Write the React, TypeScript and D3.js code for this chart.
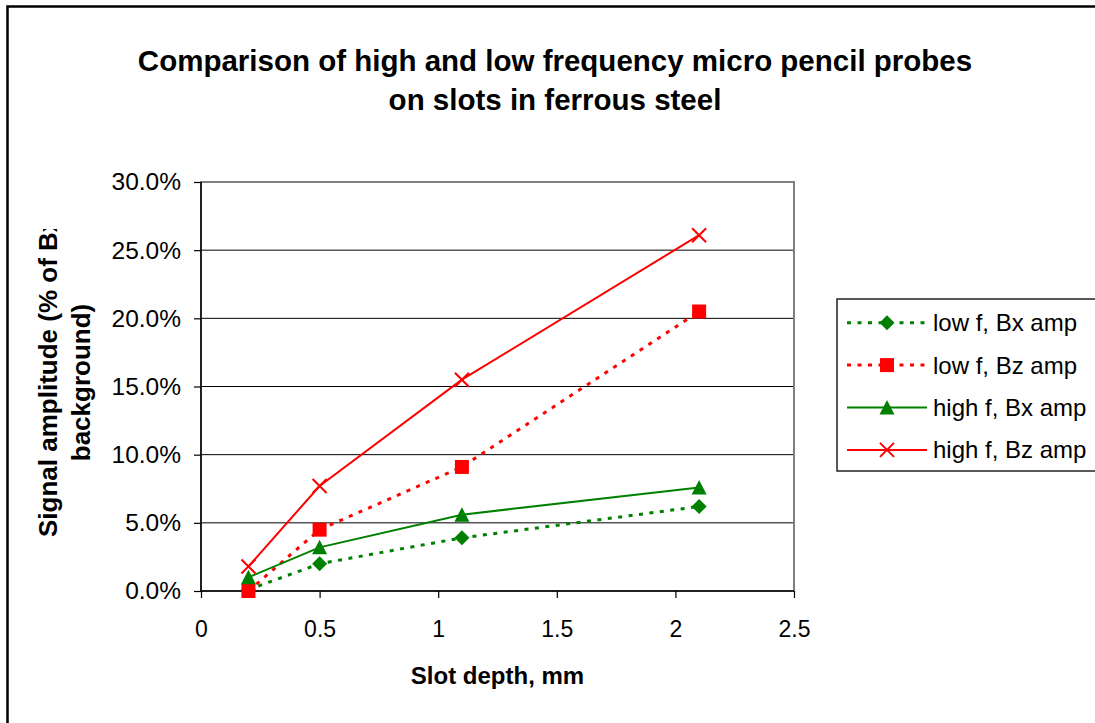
import { useEffect, useRef } from "react";
import * as d3 from "d3";

// slot depth (mm) and amplitude (fraction of background)
const depths = [0.2, 0.5, 1.1, 2.1];
const lowBx = [0.001, 0.02, 0.039, 0.062];
const lowBz = [0.0, 0.045, 0.091, 0.205];
const highBx = [0.01, 0.032, 0.056, 0.076];
const highBz = [0.018, 0.077, 0.155, 0.261];

const seriesNames = ["low f, Bx amp", "low f, Bz amp", "high f, Bx amp", "high f, Bz amp"];
const xTicks = [0, 0.5, 1, 1.5, 2, 2.5];
const yTicks = [0, 0.05, 0.1, 0.15, 0.2, 0.25, 0.3];

const titleLines = [
  "Comparison of high and low frequency micro pencil probes",
  "on slots in ferrous steel",
];
const xTitle = "Slot depth, mm";
const yTitleLines = ["Signal amplitude (% of Bx", "background)"];

const GREEN = "#008000";
const RED = "#ff0000";
const FONT = "'Liberation Sans', Arial, sans-serif";

type Marker = "diamond" | "square" | "triangle" | "cross";

export default function App() {
  const svgRef = useRef<SVGSVGElement>(null);

  useEffect(() => {
    const width = 1095;
    const height = 723;
    const svg = d3.select(svgRef.current).attr("width", width).attr("height", height);
    svg.selectAll("*").remove();

    const plot = { left: 201, right: 794, top: 182, bottom: 591 };
    const xScale = d3.scaleLinear().domain([0, 2.5]).range([plot.left, plot.right]);
    const yScale = d3.scaleLinear().domain([0, 0.3]).range([plot.bottom, plot.top]);

    // outer chart frame
    svg
      .append("rect")
      .attr("x", 7.5)
      .attr("y", 6.5)
      .attr("width", 1200)
      .attr("height", 800)
      .attr("fill", "white")
      .attr("stroke", "#000")
      .attr("stroke-width", 2.5);

    // title
    svg
      .append("g")
      .selectAll("text")
      .data(titleLines)
      .join("text")
      .attr("x", 555)
      .attr("y", (d, i) => 71 + i * 39)
      .attr("text-anchor", "middle")
      .attr("font-family", FONT)
      .attr("font-weight", "bold")
      .attr("font-size", 29.5)
      .text((d) => d);

    // grid lines
    svg
      .append("g")
      .selectAll("line")
      .data(yTicks.slice(1, -1))
      .join("line")
      .attr("x1", plot.left)
      .attr("x2", plot.right)
      .attr("y1", (d) => yScale(d))
      .attr("y2", (d) => yScale(d))
      .attr("stroke", "#000")
      .attr("stroke-width", 1);

    // plot area border
    svg
      .append("rect")
      .attr("x", plot.left)
      .attr("y", plot.top)
      .attr("width", plot.right - plot.left)
      .attr("height", plot.bottom - plot.top)
      .attr("fill", "none")
      .attr("stroke", "#808080")
      .attr("stroke-width", 2);

    // axes
    const yAxis = d3
      .axisLeft(yScale)
      .tickValues(yTicks)
      .tickFormat((d) => d3.format(".1%")(d as number))
      .tickSize(7)
      .tickPadding(13);
    const yG = svg.append("g").attr("transform", `translate(${plot.left},0)`).call(yAxis);

    const xAxis = d3
      .axisBottom(xScale)
      .tickValues(xTicks)
      .tickFormat((d) => String(d))
      .tickSize(7)
      .tickPadding(23);
    const xG = svg.append("g").attr("transform", `translate(0,${plot.bottom})`).call(xAxis);

    [yG, xG].forEach((g) => {
      g.select(".domain").attr("stroke", "#000").attr("stroke-width", 1.5);
      g.selectAll(".tick line").attr("stroke", "#000").attr("stroke-width", 1.2);
      g.selectAll(".tick text")
        .attr("font-family", FONT)
        .attr("fill", "#000");
    });
    yG.selectAll(".tick text").attr("font-size", 24.5);
    xG.selectAll(".tick text").attr("font-size", 23);
    yG.select(".domain").attr("d", `M0,${plot.top}V${plot.bottom}`);
    xG.select(".domain").attr("d", `M${plot.left},0H${plot.right}`);

    // axis titles
    svg
      .append("text")
      .attr("x", (plot.left + plot.right) / 2)
      .attr("y", 684)
      .attr("text-anchor", "middle")
      .attr("font-family", FONT)
      .attr("font-weight", "bold")
      .attr("font-size", 24)
      .text(xTitle);

    svg
      .append("clipPath")
      .attr("id", "ytitle-clip")
      .append("rect")
      .attr("x", 0)
      .attr("y", 229)
      .attr("width", 200)
      .attr("height", 500);

    const yTitle = svg.append("g").attr("clip-path", "url(#ytitle-clip)");
    yTitle
      .append("text")
      .attr("transform", "translate(57,537) rotate(-90)")
      .attr("text-anchor", "start")
      .attr("font-family", FONT)
      .attr("font-weight", "bold")
      .attr("font-size", 26)
      .text(yTitleLines[0]);
    yTitle
      .append("text")
      .attr("transform", "translate(90,382.5) rotate(-90)")
      .attr("text-anchor", "middle")
      .attr("font-family", FONT)
      .attr("font-weight", "bold")
      .attr("font-size", 26)
      .text(yTitleLines[1]);

    // series
    const series = [
      { name: seriesNames[0], values: lowBx, color: GREEN, dashed: true, marker: "diamond" as Marker },
      { name: seriesNames[1], values: lowBz, color: RED, dashed: true, marker: "square" as Marker },
      { name: seriesNames[2], values: highBx, color: GREEN, dashed: false, marker: "triangle" as Marker },
      { name: seriesNames[3], values: highBz, color: RED, dashed: false, marker: "cross" as Marker },
    ];

    const drawMarker = (g: d3.Selection<SVGGElement, unknown, null, undefined>, kind: Marker, color: string) => {
      if (kind === "diamond") {
        g.append("path").attr("d", "M0,-7.5L7.5,0L0,7.5L-7.5,0Z").attr("fill", color);
      } else if (kind === "square") {
        g.append("rect").attr("x", -7).attr("y", -7).attr("width", 14).attr("height", 14).attr("fill", color);
      } else if (kind === "triangle") {
        g.append("path").attr("d", "M0,-7.5L7.5,7L-7.5,7Z").attr("fill", color);
      } else {
        g.append("path")
          .attr("d", "M-7,-7L7,7M7,-7L-7,7")
          .attr("stroke", color)
          .attr("stroke-width", 2)
          .attr("fill", "none");
      }
    };

    const lineGenerator = d3
      .line<number>()
      .x((d, i) => xScale(depths[i]))
      .y((d) => yScale(d));

    series.forEach((s) => {
      svg
        .append("path")
        .datum(s.values)
        .attr("d", lineGenerator)
        .attr("fill", "none")
        .attr("stroke", s.color)
        .attr("stroke-width", s.dashed ? 3 : 2)
        .attr("stroke-dasharray", s.dashed ? "4,6.5" : null);

      s.values.forEach((v, i) => {
        const g = svg.append("g").attr("transform", `translate(${xScale(depths[i])},${yScale(v)})`);
        drawMarker(g, s.marker, s.color);
      });
    });

    // legend
    const legend = svg.append("g");
    legend
      .append("rect")
      .attr("x", 837)
      .attr("y", 299)
      .attr("width", 300)
      .attr("height", 172)
      .attr("fill", "white")
      .attr("stroke", "#222")
      .attr("stroke-width", 1.5);

    series.forEach((s, i) => {
      const cy = 322.7 + i * 42.4;
      legend
        .append("line")
        .attr("x1", 847)
        .attr("x2", 927)
        .attr("y1", cy)
        .attr("y2", cy)
        .attr("stroke", s.color)
        .attr("stroke-width", s.dashed ? 3 : 2)
        .attr("stroke-dasharray", s.dashed ? "4,6.5" : null);
      const g = legend.append("g").attr("transform", `translate(887,${cy})`);
      drawMarker(g, s.marker, s.color);
      legend
        .append("text")
        .attr("x", 933)
        .attr("y", cy + 8.5)
        .attr("font-family", FONT)
        .attr("font-size", 24)
        .text(s.name);
    });
  }, []);

  return (
    <div style={{ position: "absolute", left: 0, top: 0 }}>
      <svg ref={svgRef}></svg>
    </div>
  );
}
